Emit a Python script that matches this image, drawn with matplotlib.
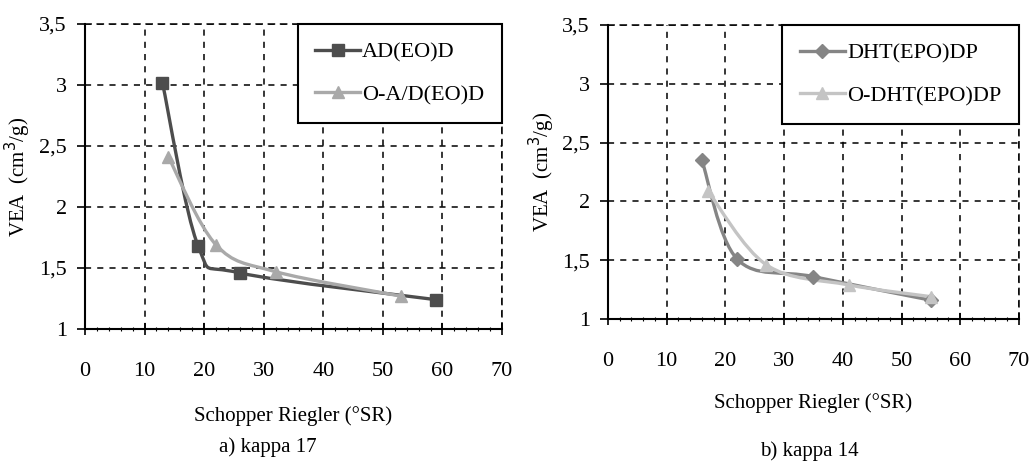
import numpy as np
import matplotlib
matplotlib.use("Agg")
import matplotlib.pyplot as plt
from matplotlib.path import Path
from matplotlib.patches import PathPatch
from matplotlib.ticker import FuncFormatter, MultipleLocator

plt.rcParams['font.family'] = ['Liberation Serif', 'DejaVu Serif']

# panel a) kappa 17
ad_x = [13, 19, 26, 59]
ad_y = [3.02, 1.68, 1.46, 1.24]
oad_x = [14, 22, 32, 53]
oad_y = [2.41, 1.69, 1.47, 1.27]

# panel b) kappa 14
dht_x = [16, 22, 35, 55]
dht_y = [2.35, 1.51, 1.36, 1.16]
odht_x = [17, 27, 41, 55]
odht_y = [2.09, 1.46, 1.29, 1.19]


def smooth_path(x, y):
    # Excel-like smoothed line as cubic Bezier segments through the points
    p = np.column_stack([x, y]).astype(float)
    n = len(p)
    verts = [p[0]]
    codes = [Path.MOVETO]
    for i in range(n - 1):
        p0 = p[i - 1] if i > 0 else p[i]
        p3 = p[i + 2] if i + 2 < n else p[i + 1]
        c1 = p[i] + (p[i + 1] - p0) / 6
        c2 = p[i + 1] - (p3 - p[i]) / 6
        verts += [c1, c2, p[i + 1]]
        codes += [Path.CURVE4] * 3
    return Path(verts, codes)


def draw_series(ax, x, y, color, marker, ms, label):
    ax.add_patch(PathPatch(smooth_path(x, y), facecolor='none', edgecolor=color,
                           lw=2.4, zorder=3))
    ax.plot(x, y, linestyle='none', marker=marker, ms=ms, color=color, zorder=4)
    ax.plot([], [], color=color, lw=2.4, marker=marker, ms=ms, label=label)


def style_axes(ax):
    ax.set_xlim(0, 70)
    ax.set_ylim(1, 3.5)
    ax.xaxis.set_major_locator(MultipleLocator(10))
    ax.yaxis.set_major_locator(MultipleLocator(0.5))
    ax.xaxis.set_minor_locator(MultipleLocator(2))
    ax.yaxis.set_major_formatter(FuncFormatter(lambda v, p: ('%g' % v).replace('.', ',')))
    ax.grid(True, which='major', color='black', linestyle=(0, (4, 4)), lw=1.1)
    for s in ['top', 'right']:
        ax.spines[s].set_linestyle((0, (4, 4)))
        ax.spines[s].set_linewidth(1.1)
    for s in ['left', 'bottom']:
        ax.spines[s].set_linewidth(1.5)
    ax.tick_params(axis='x', which='major', direction='inout', length=8, width=1.2,
                   pad=20, labelsize=16)
    ax.tick_params(axis='x', which='minor', direction='inout', length=3, width=0.8)
    ax.tick_params(axis='y', direction='out', length=6, width=1.2, pad=7, labelsize=16)
    ax.tick_params(top=False, right=False)


fig = plt.figure(figsize=(10.31, 4.61), dpi=100)
ax1 = fig.add_axes([0.0824, 0.2863, 0.4045, 0.6616])
ax2 = fig.add_axes([0.5897, 0.308, 0.3986, 0.6377])

draw_series(ax1, ad_x, ad_y, '#4d4d4d', 's', 8.5, 'AD(EO)D')
draw_series(ax1, oad_x, oad_y, '#a9a9a9', '^', 9, 'O-A/D(EO)D')
draw_series(ax2, dht_x, dht_y, '#858585', 'D', 7, 'DHT(EPO)DP')
draw_series(ax2, odht_x, odht_y, '#c4c4c4', '^', 9, 'O-DHT(EPO)DP')

for ax in (ax1, ax2):
    style_axes(ax)
    ax.set_ylabel('VEA  (cm$^3$/g)', fontsize=15)
    ax.yaxis.set_label_coords(-0.125, 0.5)
    leg = ax.legend(loc='upper right', bbox_to_anchor=(1.0, 1.0), fontsize=16,
                    fancybox=False, edgecolor='black', framealpha=1,
                    borderaxespad=0, handlelength=2.0, handletextpad=0.1,
                    labelspacing=1.0, borderpad=0.8)
    leg.get_frame().set_linewidth(1.5)

ax1.set_xlabel('Schopper Riegler (°SR)', fontsize=15, labelpad=18)
ax2.set_xlabel('Schopper Riegler (°SR)', fontsize=15, labelpad=16)
fig.text(0.26, 0.02, 'a) kappa 17', ha='center', fontsize=15)
fig.text(0.785, 0.01, 'b) kappa 14', ha='center', fontsize=15)

fig.savefig('out.png', dpi=100)
